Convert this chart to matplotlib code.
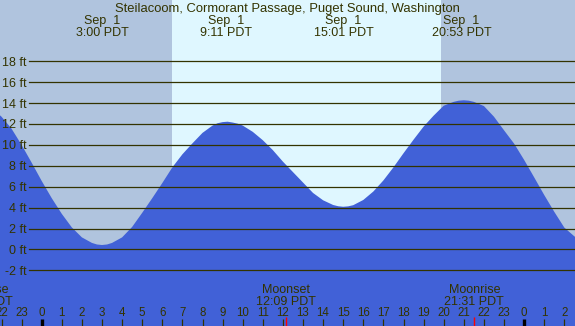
import matplotlib
matplotlib.use("Agg")
import matplotlib.pyplot as plt
import matplotlib.transforms as mtransforms

plt.rcParams['font.family'] = ['Liberation Sans', 'DejaVu Sans']

# tide height (ft), hours from midnight Sep 1
hours = [-2.5, -2.0, -1.5, -1.0, -0.5, 0.0, 0.5, 1.0, 1.5, 2.0, 2.5, 2.75, 3.0,
         3.25, 3.5, 4.0, 4.5, 5.0, 5.5, 6.0, 6.5, 7.0, 7.5, 8.0, 8.5, 8.75, 9.0,
         9.25, 9.5, 9.75, 10.0, 10.5, 11.0, 11.5, 12.0, 12.5, 13.0, 13.5, 14.0, 14.5,
         14.75, 15.0, 15.25, 15.5, 16.0, 16.5, 17.0, 17.5, 18.0, 18.5, 19.0, 19.5,
         20.0, 20.5, 20.75, 21.0, 21.25, 21.5, 22.0, 22.5, 23.0, 23.5, 24.0, 24.5,
         25.0, 25.5, 26.0, 26.5, 27.0]
levels = [13.55, 12.7, 11.55, 10.0, 8.3, 6.55, 4.9, 3.4, 2.1, 1.15, 0.62, 0.47, 0.42,
          0.47, 0.62, 1.15, 2.15, 3.5, 4.9, 6.35, 7.85, 9.1, 10.15, 11.15, 11.85, 12.07, 12.18,
          12.22, 12.14, 12.03, 11.85, 11.25, 10.45, 9.5, 8.4, 7.4, 6.4, 5.4, 4.7, 4.25,
          4.13, 4.08, 4.12, 4.23, 4.73, 5.54, 6.6, 7.85, 9.2, 10.5, 11.75, 12.8,
          13.75, 14.12, 14.23, 14.27, 14.23, 14.12, 13.72, 12.7, 11.4, 10.13, 8.57, 6.9,
          5.21, 3.6, 2.09, 1.25, 0.6]

title = "Steilacoom, Cormorant Passage, Puget Sound, Washington"
tide_times = [3.0, 9.18, 15.02, 20.88]
tide_labels = ["3:00 PDT", "9:11 PDT", "15:01 PDT", "20:53 PDT"]
moon_times = [-2.92, 12.15, 21.52]
moon_names = ["Moonrise", "Moonset", "Moonrise"]
moon_labels = ["21:05 PDT", "12:09 PDT", "21:31 PDT"]
sunrise, sunset = 6.49, 19.87
grid_levels = [-2, 0, 2, 4, 6, 8, 10, 12, 14, 16, 18]
hour_ticks = list(range(-2, 27))

W, H = 575, 326
night = '#b0c4de'
day = '#dff7ff'
water = '#4161d7'
ink = '#333300'

fig = plt.figure(figsize=(W / 100, H / 100), dpi=100)
ax = fig.add_axes([0, 0, 1, 1])
ax.set_facecolor(night)
for s in ax.spines.values():
    s.set_visible(False)
ax.set_xticks([])
ax.set_yticks([])
ax.set_xlim(-41.7 / 20.1, (W - 41.7) / 20.1)
ax.set_ylim((249.4 - H) / 10.45, 249.4 / 10.45)

def fy(py):
    return 1 - py / H

ax.axvspan(sunrise, sunset, color=day, lw=0, zorder=0)
ax.fill_between(hours, levels, -10, color=water, lw=0, zorder=1)

yt = mtransforms.blended_transform_factory(ax.transAxes, ax.transData)
for g in grid_levels:
    ax.axhline(g, xmin=29 / W, xmax=1, color=ink, lw=0.9, zorder=2)
    ax.text(27 / W, g - 0.43, f"{g} ft", transform=yt,
            ha='right', va='baseline', fontsize=9, color=ink, zorder=3)

bt = mtransforms.blended_transform_factory(ax.transData, ax.transAxes)
ax.text(0.5, fy(12), title, transform=ax.transAxes, ha='center', va='baseline',
        fontsize=9.4, color=ink)
for t, lab in zip(tide_times, tide_labels):
    ax.text(t, fy(24), "Sep  1", transform=bt, ha='center', va='baseline', fontsize=9, color=ink)
    ax.text(t, fy(36), lab, transform=bt, ha='center', va='baseline', fontsize=9, color=ink)

for t, name, lab in zip(moon_times, moon_names, moon_labels):
    ax.text(t, fy(292.7), name, transform=bt, ha='center', va='baseline', fontsize=9, color=ink)
    ax.text(t, fy(305), lab, transform=bt, ha='center', va='baseline', fontsize=9, color=ink)
    ax.vlines(t, 0, fy(316.5), transform=bt, color='red', lw=1, zorder=3)

for h in hour_ticks:
    ax.text(h, fy(316), str(h % 24), transform=bt, ha='center', va='baseline',
            fontsize=8.3, color=ink)
    if h % 24 == 0:
        ax.vlines(h, 0, fy(318.5), transform=bt, color='black', lw=2.4, zorder=3)
    else:
        ax.vlines(h, 0, fy(319.3), transform=bt, color=ink, lw=0.9, zorder=3)

fig.savefig("out.png", dpi=100)
